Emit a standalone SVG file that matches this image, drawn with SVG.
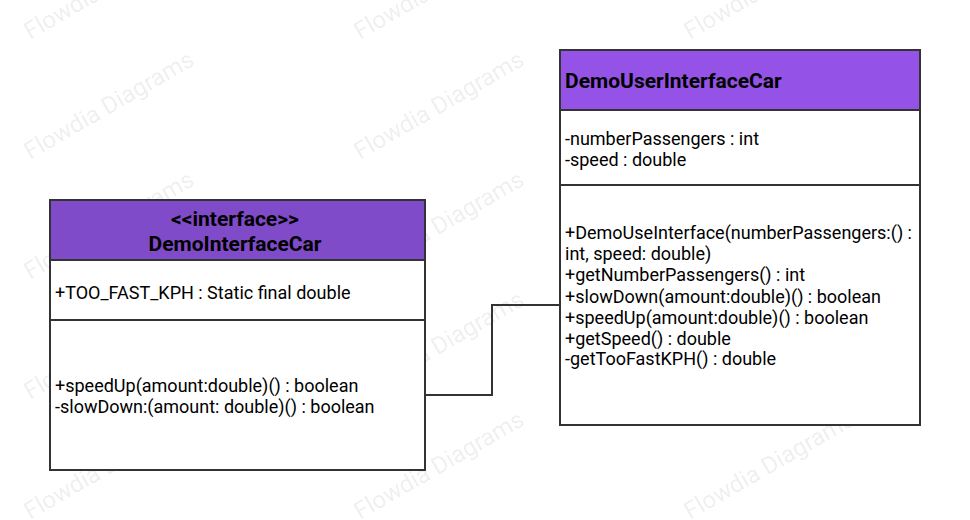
<svg xmlns="http://www.w3.org/2000/svg" width="970" height="520" viewBox="0 0 970 520">
<style>
.wm{font-family:Roboto,"Liberation Sans",sans-serif;font-size:24px;fill:#000;fill-opacity:0.08}
.box{fill:#fff;stroke:#333;stroke-width:2}
.hdrL{fill:#804bc8;stroke:#333;stroke-width:2}
.hdrR{fill:#9453e6;stroke:#333;stroke-width:2}
.div{stroke:#333;stroke-width:2}
.t{font-family:Roboto,"Liberation Sans",sans-serif;font-size:18px;fill:#000}
.b{font-family:Roboto,"Liberation Sans",sans-serif;font-size:21px;font-weight:bold;fill:#000}
.conn{fill:none;stroke:#333;stroke-width:2}
</style>
<rect width="970" height="520" fill="#fff"/>
<g id="watermark">
<text class="wm" transform="translate(30,40) rotate(-30)">Flowdia Diagrams</text>
<text class="wm" transform="translate(30,160) rotate(-30)">Flowdia Diagrams</text>
<text class="wm" transform="translate(30,280) rotate(-30)">Flowdia Diagrams</text>
<text class="wm" transform="translate(30,400) rotate(-30)">Flowdia Diagrams</text>
<text class="wm" transform="translate(30,520) rotate(-30)">Flowdia Diagrams</text>
<text class="wm" transform="translate(360,40) rotate(-30)">Flowdia Diagrams</text>
<text class="wm" transform="translate(360,160) rotate(-30)">Flowdia Diagrams</text>
<text class="wm" transform="translate(360,280) rotate(-30)">Flowdia Diagrams</text>
<text class="wm" transform="translate(360,400) rotate(-30)">Flowdia Diagrams</text>
<text class="wm" transform="translate(360,520) rotate(-30)">Flowdia Diagrams</text>
<text class="wm" transform="translate(690,40) rotate(-30)">Flowdia Diagrams</text>
<text class="wm" transform="translate(690,520) rotate(-30)">Flowdia Diagrams</text>
</g>
<g id="connectors">
<path class="conn" d="M425 395 H492 V305 H560"/>
</g>
<g id="DemoInterfaceCar">
<rect class="box" x="50" y="200" width="375" height="270"/>
<rect class="hdrL" x="50" y="200" width="375" height="60"/>
<line class="div" x1="50" y1="320" x2="425" y2="320"/>
<text class="b" x="235" y="226" text-anchor="middle">&lt;&lt;interface&gt;&gt;</text>
<text class="b" x="235" y="251" text-anchor="middle">DemoInterfaceCar</text>
<text class="t" x="55" y="299">+TOO_FAST_KPH : Static final double</text>
<text class="t" x="55" y="392">+speedUp(amount:double)() : boolean</text>
<text class="t" x="55" y="413">-slowDown:(amount: double)() : boolean</text>
</g>
<g id="DemoUserInterfaceCar">
<rect class="box" x="560" y="50" width="360" height="375"/>
<rect class="hdrR" x="560" y="50" width="360" height="60"/>
<line class="div" x1="560" y1="185" x2="920" y2="185"/>
<text class="b" x="565" y="88">DemoUserInterfaceCar</text>
<text class="t" x="565" y="145">-numberPassengers : int</text>
<text class="t" x="565" y="166">-speed : double</text>
<text class="t" x="565" y="239">+DemoUseInterface(numberPassengers:() :</text>
<text class="t" x="565" y="260">int, speed: double)</text>
<text class="t" x="565" y="281">+getNumberPassengers() : int</text>
<text class="t" x="565" y="303">+slowDown(amount:double)() : boolean</text>
<text class="t" x="565" y="324">+speedUp(amount:double)() : boolean</text>
<text class="t" x="565" y="345">+getSpeed() : double</text>
<text class="t" x="565" y="365">-getTooFastKPH() : double</text>
</g>
</svg>
